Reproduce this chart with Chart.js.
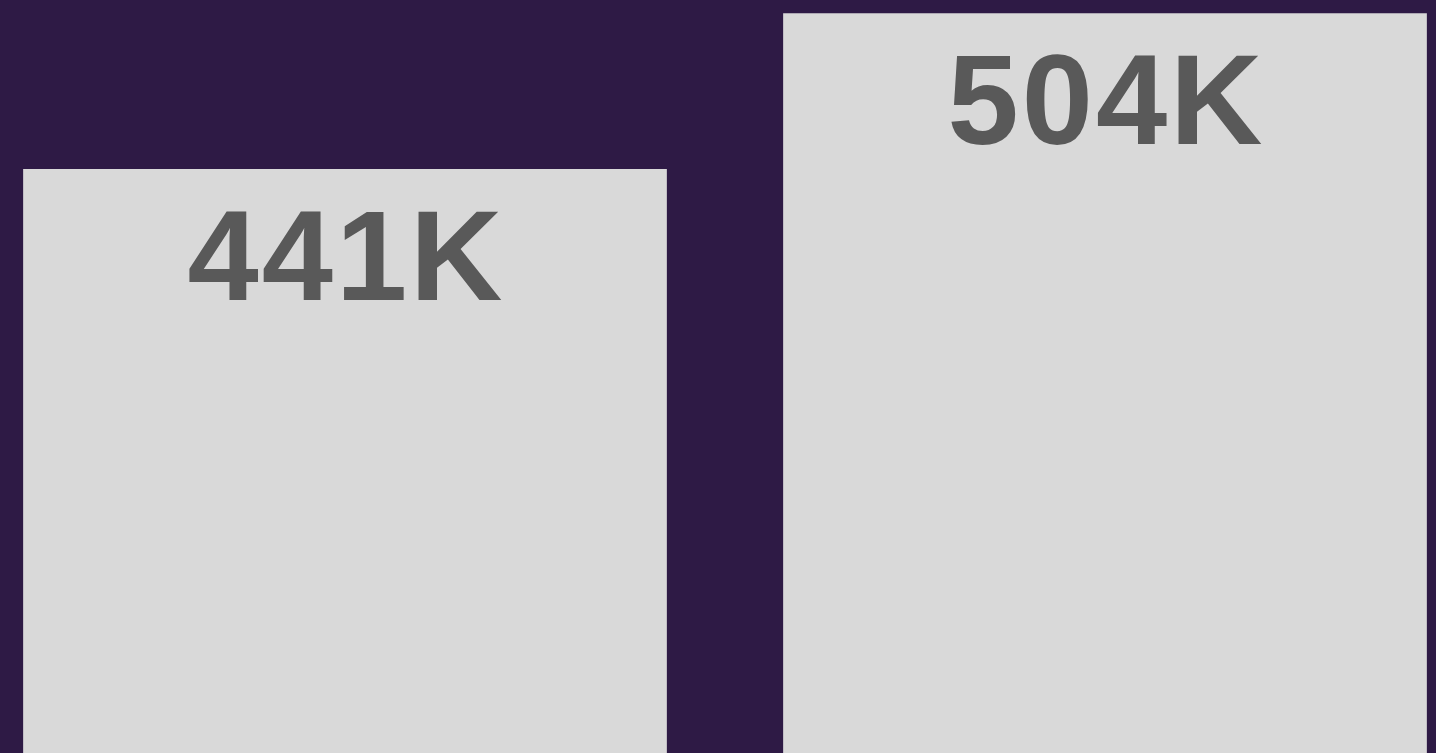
<!DOCTYPE html>
<html>
<head>
<meta charset="utf-8">
<script src="https://cdn.jsdelivr.net/npm/chart.js@4/dist/chart.umd.min.js"></script>
<style>
  html, body { margin: 0; padding: 0; background: #2e1a45; overflow: hidden; }
  #wrap { position: absolute; left: -35px; top: 0; width: 1520px; height: 753px; }
</style>
</head>
<body>
<div id="wrap"><canvas id="barChart"></canvas></div>
<script>
// Dados do gráfico
const categories = ['A', 'B'];
const values = [441, 504];       // em milhares
const labels = ['441K', '504K'];

// Plugin simples para escrever o valor dentro do topo da barra
const valueLabels = {
    id: 'valueLabels',
    afterDatasetsDraw(chart) {
        const ctx = chart.ctx;
        const meta = chart.getDatasetMeta(0);
        ctx.save();
        ctx.fillStyle = '#595959';
        ctx.font = 'bold 128px "Liberation Sans", Arial, sans-serif';
        ctx.letterSpacing = '3px';
        ctx.textAlign = 'center';
        ctx.textBaseline = 'alphabetic';
        meta.data.forEach((bar, i) => {
            ctx.fillText(labels[i], bar.x + 1.5, bar.y + 131);
        });
        ctx.restore();
    }
};

const ctx = document.getElementById('barChart').getContext('2d');
new Chart(ctx, {
    type: 'bar',
    data: {
        labels: categories,
        datasets: [{
            data: values,
            backgroundColor: '#d9d9d9',
            borderWidth: 0,
            barPercentage: 1,
            categoryPercentage: 0.847
        }]
    },
    options: {
        responsive: true,
        maintainAspectRatio: false,
        animation: false,
        layout: { padding: 0 },
        scales: {
            x: { display: false },
            y: { display: false, min: 204.7, max: 509.4 }
        },
        plugins: {
            legend: { display: false },
            tooltip: { enabled: false }
        }
    },
    plugins: [valueLabels]
});
</script>
</body>
</html>
